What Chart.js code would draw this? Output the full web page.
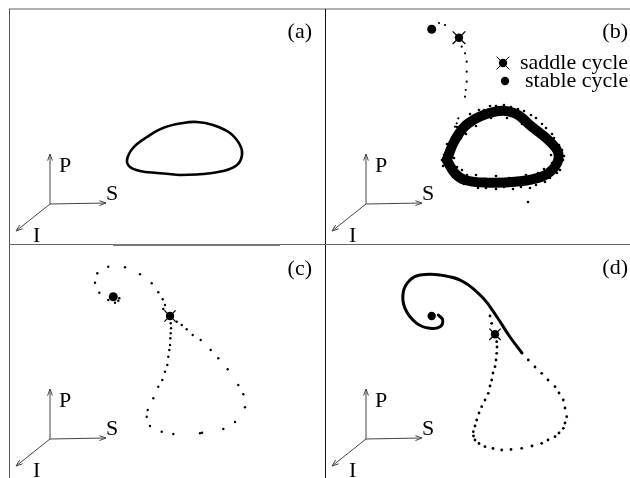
<!DOCTYPE html>
<html>
<head>
<meta charset="utf-8">
<script src="https://cdn.jsdelivr.net/npm/chart.js@4.4.1/dist/chart.umd.min.js"></script>
<style>
    body { margin: 0; background: #fff; }
    #fig { position: relative; width: 630px; height: 478px; overflow: hidden; }
    #fig canvas { position: absolute; }
    .rule { position: absolute; }
</style>
</head>
<body>
<div id="fig">
    <div class="rule" style="left:9px;top:8px;width:621px;height:2px;background:#b0b0b0"></div>
    <div class="rule" style="left:9px;top:9px;width:1px;height:469px;background:#555"></div>
    <div class="rule" style="left:325px;top:9px;width:1px;height:469px;background:#111"></div>
    <div class="rule" style="left:9px;top:244px;width:621px;height:1px;background:#666"></div>
    <div class="rule" style="left:113px;top:244px;width:167px;height:2px;background:#777"></div>
    <canvas id="panelA" width="315" height="234" style="left:10px;top:10px"></canvas>
    <canvas id="panelB" width="304" height="234" style="left:326px;top:10px"></canvas>
    <canvas id="panelC" width="315" height="233" style="left:10px;top:245px"></canvas>
    <canvas id="panelD" width="304" height="233" style="left:326px;top:245px"></canvas>
</div>
<script>
// Trajectories projected onto the panel plane (S to the right, P upward)

// (a) stable limit cycle
const aCycleX = [170, 147, 130, 120, 117, 123, 137, 153, 173, 187, 203, 220, 230, 232, 227, 213, 193, 170];
const aCycleY = [165, 163, 161, 157, 150, 138, 127, 118, 113, 112, 115, 123, 135, 145, 155, 161, 164, 165];

// (b) noisy attractor, orbit leaving the saddle, cycles
const bBandX = [120.7, 129, 142.3, 169, 189, 205.7, 222.3, 232.3, 229, 215.7, 189, 162.3, 139, 129, 120.7];
const bBandY = [150, 130, 113.3, 101.7, 103.3, 116.7, 130, 143.3, 156.7, 166.7, 171.7, 172.7, 170, 163.3, 150];
const bScatterX = [118, 117, 122, 126, 133, 138, 147, 158, 170, 185, 198, 210, 220, 228, 236, 237, 234, 224,
    210, 195, 178, 160, 145, 133, 124, 128, 140, 150, 165, 200, 215, 225, 218, 200, 170, 150, 136, 202,
    116, 121, 131, 144, 153, 164, 178, 192, 205, 216, 226, 233, 238, 231, 219, 204, 187, 170, 152, 138, 127,
    125, 135, 146, 160, 181, 196, 211, 222, 230, 226, 212, 183, 158, 141, 131];
const bScatterY = [145, 156, 140, 163, 121, 112, 106, 100, 96, 97, 101, 108, 118, 128, 140, 150, 160, 168,
    175, 177, 177, 178, 175, 170, 157, 148, 124, 116, 108, 112, 125, 145, 159, 165, 166, 165, 160, 192,
    150, 134, 117, 104, 100, 96, 95, 99, 105, 114, 124, 135, 146, 163, 172, 178, 179, 179, 178, 174, 167,
    152, 128, 115, 107, 108, 114, 121, 133, 146, 153, 163, 168, 169, 165, 157];
const bOrbitX = [113, 119, 135.7, 139, 140.7, 140.7, 140.7, 139.7, 139, 132.3, 130.7, 129];
const bOrbitY = [13, 15, 36.7, 43.3, 51.7, 61.7, 71.7, 80, 86.7, 108.3, 113.3, 116.7];
const bSaddle = [133, 27.7];
const bStable = [105.7, 19.3];

// (c) homoclinic-like loop through the saddle
const cOrbitX = [98.3, 115, 87.3, 130, 85, 141.7, 89.3, 148.3, 152.7, 155, 153.3, 98.3, 108.3, 105, 109.3,
    160.7, 161, 160.7, 160.3, 160, 159.3, 158.3, 157.3, 155, 152.3, 148.3, 143.3, 137.7, 136.7, 140, 151.7,
    163.3, 190, 192, 213.3, 225, 235, 233.3, 228.3, 217.7, 208.3, 200.7, 190.7, 182.7, 176.7, 171.7, 166.7];
const cOrbitY = [21.7, 22.3, 28.3, 29.3, 37.7, 38.3, 47.7, 47.3, 54.3, 60, 64, 55, 55.7, 57.7, 53.3,
    78.3, 83.3, 88.3, 93.3, 100, 105, 111.7, 120, 126.7, 135, 141.7, 153.3, 165, 171.7, 181, 186.7,
    189, 188.3, 187.7, 184, 177, 162.3, 149.3, 140, 124.3, 113.3, 105, 95, 90, 84.3, 80, 76.7];
const cSaddle = [160, 71];
const cStable = [103.3, 51.7];

// (d) spiral into the stable cycle plus the big excursion
const dSpiralX = [196, 184, 171, 157.3, 137.3, 114, 94, 84, 77.3, 79, 90.7, 104, 114, 116.7, 112.3];
const dSpiralY = [108, 92, 72, 53.3, 36.7, 30, 30, 35, 46.7, 63.3, 78.3, 83.3, 81.7, 75, 70];
const dOrbitX = [202.3, 209, 215.7, 222, 229, 233, 237.3, 239, 240.7, 239, 237.3, 233, 229, 222,
    215.7, 206, 195.7, 185, 175.7, 167, 159, 153, 149, 147.5, 147.3, 149, 150.7, 153, 155.7, 159, 162.3,
    164, 165.7, 167, 169, 170, 170.7, 171, 170.7, 165.7, 164];
const dOrbitY = [115, 122, 128.3, 135, 141.7, 148, 155, 163, 171.7, 178, 183.3, 188, 191.7, 195,
    198.3, 201, 203.3, 204.5, 205, 203.5, 201.7, 198.5, 195, 191, 186.7, 181, 175, 168, 161.7, 155, 148.3,
    141, 135, 128, 121.7, 115, 108.3, 102, 96.7, 78.3, 71];
const dSaddle = [169, 89.3];
const dStable = [105.7, 71];

const inkColor = '#000';
const serifFont = '"Liberation Serif", "DejaVu Serif", serif';

function toPoints(xs, ys) {
    return xs.map((x, i) => ({ x: x, y: ys[i] }));
}

function curve(xs, ys, width) {
    return {
        data: toPoints(xs, ys),
        showLine: true,
        borderColor: inkColor,
        borderWidth: width,
        tension: 0.4,
        pointRadius: 0,
        borderCapStyle: 'round',
        borderJoinStyle: 'round'
    };
}

function dots(xs, ys, radius) {
    return {
        data: toPoints(xs, ys),
        showLine: false,
        pointRadius: radius,
        pointBackgroundColor: inkColor,
        pointBorderWidth: 0
    };
}

function saddle(pt, size) {
    return [
        {
            data: [{ x: pt[0], y: pt[1] }],
            pointStyle: 'crossRot',
            pointRadius: size,
            pointBorderColor: inkColor,
            pointBorderWidth: 1.3
        },
        {
            data: [{ x: pt[0], y: pt[1] }],
            pointRadius: 4.2,
            pointBackgroundColor: inkColor,
            pointBorderWidth: 0
        }
    ];
}

function stable(pt, radius) {
    return {
        data: [{ x: pt[0], y: pt[1] }],
        pointRadius: radius,
        pointBackgroundColor: inkColor,
        pointBorderWidth: 0
    };
}

function arrow(ctx, x0, y0, x1, y1) {
    const ang = Math.atan2(y1 - y0, x1 - x0);
    const head = 7;
    ctx.beginPath();
    ctx.moveTo(x0, y0);
    ctx.lineTo(x1, y1);
    ctx.moveTo(x1 - head * Math.cos(ang - 0.35), y1 - head * Math.sin(ang - 0.35));
    ctx.lineTo(x1, y1);
    ctx.lineTo(x1 - head * Math.cos(ang + 0.35), y1 - head * Math.sin(ang + 0.35));
    ctx.stroke();
}

// Axis triad, panel letter and (optional) key
const panelDecor = {
    id: 'panelDecor',
    afterDraw(chart, args, opts) {
        const ctx = chart.ctx;
        const left = chart.chartArea.left;
        const top = chart.chartArea.top;
        const ox = left + 40, oy = top + 194;
        ctx.save();
        ctx.strokeStyle = '#444';
        ctx.lineWidth = 1;
        arrow(ctx, ox, oy, ox, oy - 50);
        arrow(ctx, ox, oy, ox + 56, oy - 1);
        arrow(ctx, ox, oy, ox - 34, oy + 27);

        ctx.fillStyle = inkColor;
        ctx.font = '22px ' + serifFont;
        ctx.textBaseline = 'alphabetic';
        ctx.textAlign = 'left';
        ctx.fillText('P', ox + 9, oy - 32);
        ctx.fillText('S', ox + 56, oy - 4);
        ctx.fillText('I', ox - 17, oy + 38);

        ctx.textAlign = 'right';
        ctx.textBaseline = 'middle';
        ctx.fillText(opts.label, left + 302, top + opts.labelY);

        if (opts.key) {
            const sx = left + 177, sy = top + 53;
            ctx.strokeStyle = inkColor;
            Chart.helpers.drawPoint(ctx, { pointStyle: 'crossRot', radius: 9, borderWidth: 1.5 }, sx, sy);
            ctx.beginPath();
            ctx.arc(sx, sy, 4.2, 0, Math.PI * 2);
            ctx.fill();
            ctx.beginPath();
            ctx.arc(left + 179, top + 71, 4.2, 0, Math.PI * 2);
            ctx.fill();
            ctx.textAlign = 'left';
            ctx.fillText('saddle cycle', left + 194, sy);
            ctx.fillText('stable cycle', left + 199, top + 71);
        }
        ctx.restore();
    }
};

function makePanel(id, datasets, label, labelY, key) {
    const canvas = document.getElementById(id);
    return new Chart(canvas.getContext('2d'), {
        type: 'scatter',
        data: { datasets: datasets },
        options: {
            responsive: false,
            animation: false,
            events: [],
            layout: { padding: 0, autoPadding: false },
            scales: {
                x: { type: 'linear', min: 0, max: canvas.width, display: false },
                y: { type: 'linear', min: 0, max: canvas.height, reverse: true, display: false }
            },
            plugins: {
                legend: { display: false },
                tooltip: { enabled: false },
                panelDecor: { label: label, labelY: labelY, key: key }
            }
        },
        plugins: [panelDecor]
    });
}

makePanel('panelA', [curve(aCycleX, aCycleY, 2.6)], '(a)', 22, false);

// thick band first, the scattered samples roughen its edges
makePanel('panelB', [
    curve(bBandX, bBandY, 10),
    dots(bScatterX, bScatterY, 1.3),
    dots(bOrbitX, bOrbitY, 1.1),
    stable(bStable, 4.5),
    ...saddle(bSaddle, 9)
], '(b)', 22, true);

makePanel('panelC', [
    dots(cOrbitX, cOrbitY, 1.2),
    stable(cStable, 4.5),
    ...saddle(cSaddle, 8)
], '(c)', 24, false);

makePanel('panelD', [
    curve(dSpiralX, dSpiralY, 3),
    dots(dOrbitX, dOrbitY, 1.4),
    stable(dStable, 4.2),
    ...saddle(dSaddle, 8)
], '(d)', 23, false);
</script>
</body>
</html>
